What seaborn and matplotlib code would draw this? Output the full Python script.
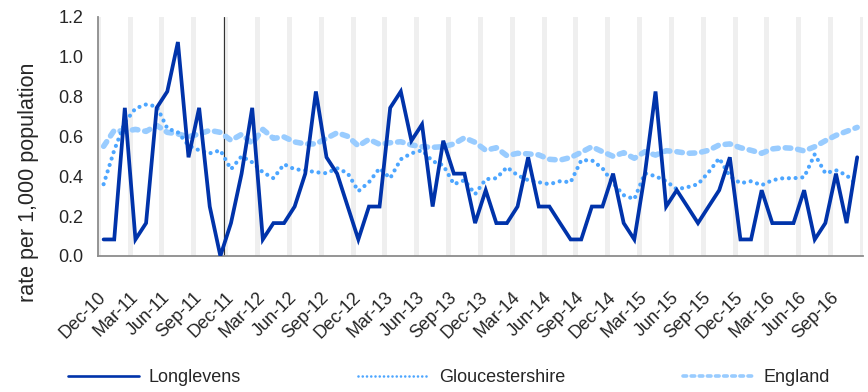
import numpy as np
import pandas as pd
import matplotlib
matplotlib.use("Agg")
import matplotlib.pyplot as plt
import seaborn as sns

sns.set_style("white")
plt.rcParams["font.family"] = ["Liberation Sans", "DejaVu Sans"]

# Monthly categories, Dec-10 .. Nov-16
months = list(pd.date_range("2010-12-01", periods=72, freq="MS").strftime("%b-%y"))

tick_labels = ["Dec-10", "Mar-11", "Jun-11", "Sep-11", "Dec-11", "Mar-12", "Jun-12",
               "Sep-12", "Dec-12", "Mar-13", "Jun-13", "Sep-13", "Dec-13", "Mar-14",
               "Jun-14", "Sep-14", "Dec-14", "Mar-15", "Jun-15", "Sep-15", "Dec-15",
               "Mar-16", "Jun-16", "Sep-16"]

longlevens = [0.083, 0.083, 0.743, 0.083, 0.165, 0.743, 0.825, 1.073, 0.495, 0.743,
              0.248, 0.0, 0.165, 0.413, 0.743, 0.083, 0.165, 0.165, 0.248, 0.413,
              0.825, 0.495, 0.413, 0.248, 0.083, 0.248, 0.248, 0.743, 0.825, 0.578,
              0.66, 0.248, 0.578, 0.413, 0.413, 0.165, 0.33, 0.165, 0.165, 0.248,
              0.495, 0.248, 0.248, 0.165, 0.083, 0.083, 0.248, 0.248, 0.413, 0.165,
              0.083, 0.413, 0.825, 0.248, 0.33, 0.248, 0.165, 0.248, 0.33, 0.495,
              0.083, 0.083, 0.33, 0.165, 0.165, 0.165, 0.33, 0.083, 0.165, 0.413,
              0.165, 0.495]

gloucestershire = [0.36, 0.53, 0.67, 0.74, 0.76, 0.75, 0.64, 0.62, 0.555, 0.53,
                   0.515, 0.53, 0.435, 0.50, 0.47, 0.42, 0.39, 0.46, 0.435, 0.43,
                   0.42, 0.415, 0.44, 0.415, 0.325, 0.37, 0.44, 0.39, 0.485, 0.515,
                   0.53, 0.475, 0.455, 0.36, 0.38, 0.31, 0.385, 0.39, 0.445, 0.405,
                   0.38, 0.37, 0.36, 0.375, 0.37, 0.48, 0.48, 0.44, 0.365, 0.305,
                   0.285, 0.415, 0.40, 0.375, 0.335, 0.345, 0.36, 0.42, 0.49, 0.40,
                   0.365, 0.375, 0.355, 0.38, 0.39, 0.39, 0.395, 0.51, 0.415, 0.43,
                   0.405, 0.355]

england = [0.55, 0.63, 0.625, 0.635, 0.625, 0.655, 0.62, 0.612, 0.598, 0.612,
           0.63, 0.62, 0.58, 0.61, 0.565, 0.635, 0.59, 0.597, 0.572, 0.562,
           0.562, 0.59, 0.618, 0.60, 0.552, 0.585, 0.56, 0.568, 0.573, 0.557,
           0.548, 0.545, 0.548, 0.562, 0.593, 0.57, 0.53, 0.543, 0.503, 0.515,
           0.512, 0.507, 0.485, 0.481, 0.494, 0.52, 0.548, 0.523, 0.50, 0.518,
           0.49, 0.523, 0.506, 0.528, 0.523, 0.515, 0.517, 0.53, 0.557, 0.562,
           0.543, 0.53, 0.515, 0.537, 0.543, 0.54, 0.527, 0.548, 0.578, 0.605,
           0.625, 0.645]

df = pd.DataFrame({"month": months, "pos": np.arange(len(months)),
                   "Longlevens": longlevens, "Gloucestershire": gloucestershire,
                   "England": england})

W, H = 868, 392
fig = plt.figure(figsize=(W / 100, H / 100), dpi=100)
left, right, top, bottom = 98.3, 862.5, 16.7, 256.0
ax = fig.add_axes([left / W, 1 - bottom / H, (right - left) / W, (bottom - top) / H])

n = len(months)
ax.set_xlim(-0.5, n - 0.5)
ax.set_ylim(0, 1.2)

# quarter separators: pale bands on every third category boundary
quarter_bounds = np.arange(-0.5, n, 3)
for b in quarter_bounds:
    ax.axvspan(b - 0.235, b + 0.235, color="#efefef", lw=0, zorder=0)
ax.axvline(11.38, color="#333333", lw=0.8, zorder=1)

sns.lineplot(data=df, x="pos", y="England", ax=ax, color="#99ccff", lw=4.0,
             linestyle=(0, (1.0, 1.25)), dash_capstyle="round", label="England",
             zorder=3)
sns.lineplot(data=df, x="pos", y="Gloucestershire", ax=ax, color="#4da6ff", lw=3.0,
             linestyle=(0, (0.01, 1.6)), dash_capstyle="round",
             label="Gloucestershire", zorder=4)
sns.lineplot(data=df, x="pos", y="Longlevens", ax=ax, color="#0033aa", lw=2.7,
             solid_joinstyle="miter", label="Longlevens", zorder=5)

for s in ["top", "right"]:
    ax.spines[s].set_visible(False)
for s in ["left", "bottom"]:
    ax.spines[s].set_color("#8c8c8c")
    ax.spines[s].set_linewidth(1.3)

ax.set_yticks(np.arange(0, 1.21, 0.2))
ax.set_yticklabels([f"{v:.1f}" for v in np.arange(0, 1.21, 0.2)], fontsize=13)
ax.tick_params(axis="y", length=3.6, width=1, color="#8c8c8c", pad=7)

ax.set_xticks(quarter_bounds)
ax.set_xticklabels([])
ax.tick_params(axis="x", which="major", length=4.3, width=1, color="#8c8c8c")
ax.set_xticks(np.arange(0, n, 3), minor=True)
ax.set_xticklabels(tick_labels, minor=True, fontsize=13, rotation=45,
                   ha="right", va="center", rotation_mode="anchor")
ax.tick_params(axis="x", which="minor", length=0, pad=28)

ax.set_xlabel("")
ax.set_ylabel("")
fig.text(29 / W, 1 - 182 / H, "rate per 1,000 population", rotation=90,
         ha="center", va="center", fontsize=15.5)

handles, labels = ax.get_legend_handles_labels()
ax.get_legend().remove()
order = [labels.index(k) for k in ["Longlevens", "Gloucestershire", "England"]]
fs = 13
px = fs * 100 / 72
leg = fig.legend([handles[i] for i in order], [labels[i] for i in order],
                 loc="center left", bbox_to_anchor=(68 / W, 1 - 378 / H), ncol=3,
                 frameon=False, fontsize=fs, borderpad=0, borderaxespad=0,
                 handlelength=71 / px, handletextpad=10 / px,
                 columnspacing=117 / px)
for line, lw in zip(leg.get_lines(), [1.9, 1.9, 2.6]):
    line.set_linewidth(lw)

fig.savefig("out.png", dpi=100)
